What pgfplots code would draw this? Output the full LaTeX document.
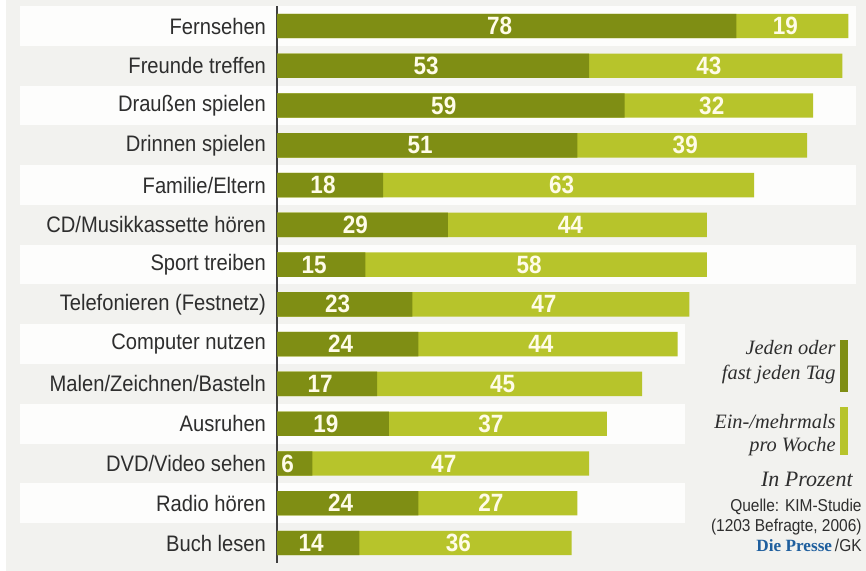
\documentclass[border=0pt]{standalone}
\usepackage{fontspec}
\setmainfont{Liberation Sans}[FakeStretch=0.9]
\newfontfamily\legendserif{Liberation Serif}
\usepackage{pgfplots}
\usepackage{pgfplotstable}
\pgfplotsset{compat=1.18}
\definecolor{dgreen}{HTML}{7F8E14}
\definecolor{lgreen}{HTML}{B7C42B}
\definecolor{bgc}{HTML}{F2F2EF}
\definecolor{stripe}{HTML}{FDFDFC}
\definecolor{lbl}{HTML}{FFFCE8}
\definecolor{presse}{HTML}{1F5F9E}
\definecolor{txt}{HTML}{2E2E2E}

\pgfplotstableread{
i d l
0 78 19
1 53 43
2 59 32
3 51 39
4 18 63
5 29 44
6 15 58
7 23 47
8 24 44
9 17 45
10 19 37
11 6 47
12 24 27
13 14 36
}\data

\begin{document}
\begin{tikzpicture}[x=1pt,y=1pt]
\useasboundingbox (0,0) rectangle (433,285.5);
\fill[white] (0,0) rectangle (433,285.5);
\fill[bgc] (3,0) rectangle (433,285.5);
\foreach \i in {0,2,4,6} {
  \fill[stripe] (10,{272.5-19.885*\i-9.94}) rectangle (428,{272.5-19.885*\i+9.94});
}
\foreach \i in {8,10,12} {
  \fill[stripe] (10,{272.5-19.885*\i-9.94}) rectangle (342.5,{272.5-19.885*\i+9.94});
}
\begin{axis}[
  x=2.945pt, y=19.885pt, y dir=reverse,
  xmin=0, xmax=100, ymin=-0.5, ymax=13.5,
  anchor=origin, at={(138.5pt,272.5pt)},
  axis x line=none, axis y line*=left,
  axis line style={draw=black!75, line width=0.8pt},
  ytick={0,...,13},
  yticklabels={Fernsehen, Freunde treffen, Draußen spielen, Drinnen spielen, Familie/Eltern, CD/Musikkassette hören, Sport treiben, Telefonieren (Festnetz), Computer nutzen, Malen/Zeichnen/Basteln, Ausruhen, DVD/Video sehen, Radio hören, Buch lesen},
  major tick length=0pt,
  yticklabel style={font=\fontsize{11.2}{13}\selectfont, text=txt, xshift=-2pt},
  clip=false,
]
\addplot[xbar, bar width=12.2pt, bar shift=0pt, fill=lgreen, draw=none]
  table[x expr=\thisrow{d}+\thisrow{l}, y=i]{\data};
\addplot[xbar, bar width=12.2pt, bar shift=0pt, fill=dgreen, draw=none]
  table[x=d, y=i]{\data};
\addplot[draw=none, mark=none, nodes near coords, point meta=explicit symbolic,
  nodes near coords style={anchor=center, font=\bfseries\fontsize{12.5}{14}\selectfont, text=lbl, xshift=-3.5pt}]
  table[x expr=\thisrow{d}/2, y=i, meta=d]{\data};
\addplot[draw=none, mark=none, nodes near coords, point meta=explicit symbolic,
  nodes near coords style={anchor=center, font=\bfseries\fontsize{12.5}{14}\selectfont, text=lbl, xshift=-3.5pt}]
  table[x expr=\thisrow{d}+\thisrow{l}/2, y=i, meta=l]{\data};
\end{axis}
% legend
\begin{scope}[every node/.style={anchor=base east, inner sep=0pt, text=txt}]
\node[font=\legendserif\itshape\fontsize{10.2}{12}\selectfont] at (418,108) {Jeden oder};
\node[font=\legendserif\itshape\fontsize{10.2}{12}\selectfont] at (418,95.5) {fast jeden Tag};
\node[font=\legendserif\itshape\fontsize{10.2}{12}\selectfont] at (418,71) {Ein-/mehrmals};
\node[font=\legendserif\itshape\fontsize{10.2}{12}\selectfont] at (418,59.5) {pro Woche};
\node[font=\legendserif\itshape\fontsize{11}{13}\selectfont] at (426.5,42) {In Prozent};
\node[font=\fontsize{8.6}{10}\selectfont] at (431,29.5) {Quelle: KIM-Studie};
\node[font=\fontsize{8.6}{10}\selectfont] at (431,19.5) {(1203 Befragte, 2006)};
\node[font=\fontsize{8.6}{10}\selectfont] at (431,9.5) {{\legendserif\bfseries\color{presse}Die Presse}\,/GK};
\end{scope}
\fill[dgreen] (420,89.5) rectangle (424,115.5);
\fill[lgreen] (420,58) rectangle (424,82);
\end{tikzpicture}
\end{document}
